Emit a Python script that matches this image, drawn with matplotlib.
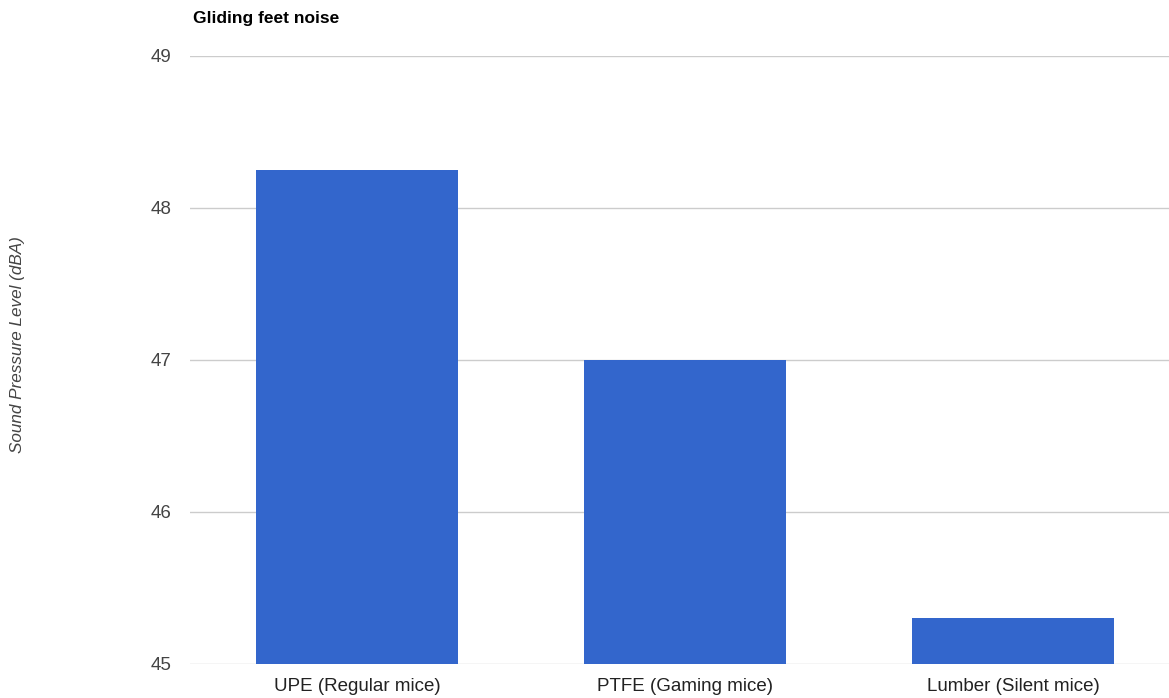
import matplotlib.pyplot as plt

plt.rcParams["font.family"] = ["Liberation Sans", "DejaVu Sans"]

categories = ["UPE (Regular mice)", "PTFE (Gaming mice)", "Lumber (Silent mice)"]
values = [48.25, 47.0, 45.3]
yticks = [45, 46, 47, 48, 49]

fig = plt.figure(figsize=(11.69, 6.98), dpi=100)
ax = fig.add_axes([190 / 1169, 1 - 664 / 698, 980 / 1169, 608 / 698])

x = range(len(categories))
ax.bar(x, values, width=0.616, color="#3366cc", zorder=2)

ax.set_xlim(-0.509, 2.479)
ax.set_ylim(45, 49)
ax.set_yticks(yticks)
ax.set_yticklabels([str(t) for t in yticks], fontsize=13.5, color="#444444")
ax.set_xticks(list(x))
ax.set_xticklabels(categories, fontsize=13.5, color="#222222")
ax.grid(axis="y", color="#cccccc", linewidth=1, zorder=0)
for s in ax.spines.values():
    s.set_visible(False)
ax.tick_params(axis="both", length=0)
ax.tick_params(axis="y", pad=13.5)
ax.tick_params(axis="x", pad=10)

fig.text(193 / 1169, 1 - 18 / 698, "Gliding feet noise", fontsize=12.5, fontweight="bold",
         color="#000000", va="center", ha="left")
fig.text(18 / 1169, 1 - 345 / 698, "Sound Pressure Level (dBA)", fontsize=12.3, style="italic",
         color="#444444", rotation=90, va="center", ha="center")

fig.savefig("out.png", dpi=100)
